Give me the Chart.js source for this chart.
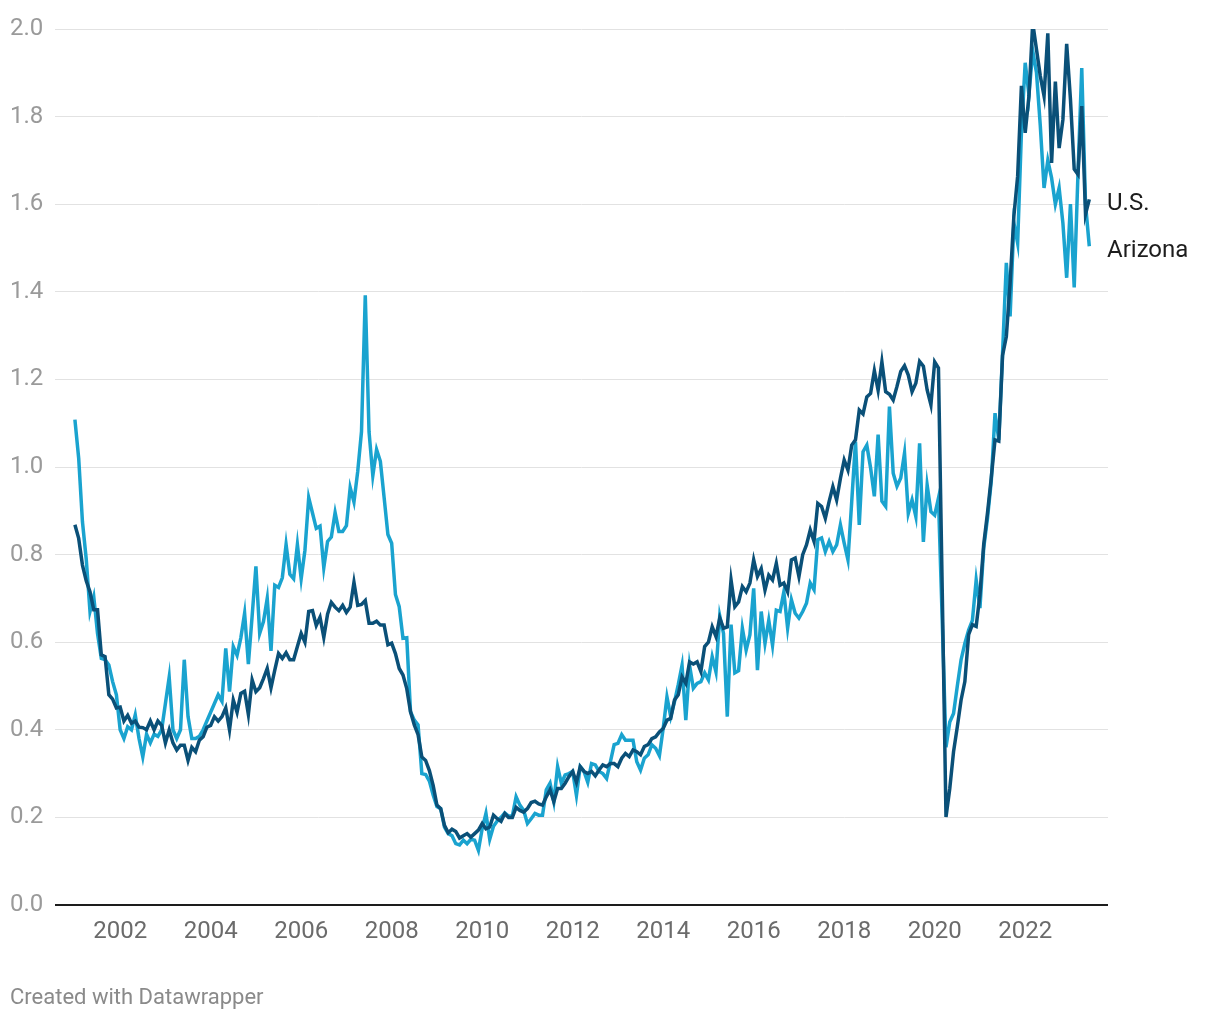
<!DOCTYPE html>
<html>
<head>
<meta charset="utf-8">
<script src="https://cdn.jsdelivr.net/npm/chart.js@4.4.1/dist/chart.umd.min.js"></script>
<style>
html,body{margin:0;padding:0;background:#ffffff;}
#wrap{position:relative;width:1220px;height:1020px;overflow:hidden;}
#c{position:absolute;left:0;top:0;}
#credit{position:absolute;left:10px;top:985px;font-family:Roboto,sans-serif;font-size:22px;line-height:24px;color:#8a8a8a;}
</style>
</head>
<body>
<div id="wrap">
<canvas id="c" width="1220" height="1020"></canvas>
<div id="credit">Created with Datawrapper</div>
</div>
<script>
// Monthly values, January 2001 to June 2023
const startYear = 2001;
const seriesNames = ['U.S.', 'Arizona'];

const usValues = [
  0.868, 0.837, 0.776, 0.74, 0.715, 0.674, 0.674, 0.571, 0.567, 0.48, 0.47, 0.45,
  0.452, 0.42, 0.433, 0.415, 0.42, 0.406, 0.405, 0.40, 0.42, 0.40, 0.42, 0.41,
  0.37, 0.40, 0.37, 0.354, 0.365, 0.365, 0.33, 0.36, 0.35, 0.376, 0.384, 0.406,
  0.41, 0.43, 0.42, 0.43, 0.45, 0.40, 0.468, 0.44, 0.483, 0.488, 0.435, 0.514,
  0.487, 0.496, 0.517, 0.54, 0.496, 0.536, 0.574, 0.563, 0.576, 0.56, 0.56, 0.59,
  0.62, 0.60, 0.67, 0.672, 0.638, 0.657, 0.611, 0.664, 0.691, 0.68, 0.672, 0.684,
  0.668, 0.68, 0.737, 0.684, 0.686, 0.695, 0.643, 0.643, 0.648, 0.639, 0.639, 0.594,
  0.598, 0.574, 0.54, 0.525, 0.494, 0.441, 0.411, 0.389, 0.338, 0.33, 0.307, 0.273,
  0.228, 0.22, 0.182, 0.165, 0.173, 0.168, 0.153, 0.158, 0.163, 0.155, 0.163, 0.171,
  0.186, 0.174, 0.178, 0.205, 0.197, 0.191, 0.209, 0.2, 0.2, 0.223, 0.216, 0.212,
  0.22, 0.234, 0.237, 0.231, 0.228, 0.247, 0.263, 0.236, 0.266, 0.266, 0.278, 0.293,
  0.305, 0.28, 0.316, 0.305, 0.3, 0.305, 0.295, 0.308, 0.32, 0.316, 0.323, 0.323,
  0.316, 0.335, 0.346, 0.339, 0.354, 0.35, 0.343, 0.362, 0.366, 0.38, 0.384, 0.395,
  0.403, 0.422, 0.426, 0.468, 0.48, 0.521, 0.506, 0.555, 0.55, 0.555, 0.533, 0.59,
  0.6, 0.635, 0.613, 0.655, 0.632, 0.635, 0.742, 0.681, 0.692, 0.727, 0.715, 0.735,
  0.788, 0.75, 0.768, 0.719, 0.753, 0.742, 0.78, 0.73, 0.735, 0.715, 0.788, 0.792,
  0.75, 0.8, 0.822, 0.856, 0.83, 0.917, 0.91, 0.883, 0.921, 0.955, 0.925, 0.974,
  1.016, 0.993, 1.05, 1.062, 1.13, 1.121, 1.16, 1.168, 1.22, 1.175, 1.24, 1.172,
  1.166, 1.153, 1.184, 1.218, 1.231, 1.21, 1.172, 1.191, 1.241, 1.23, 1.176, 1.142,
  1.24, 1.226, 0.72, 0.201, 0.266, 0.35, 0.407, 0.468, 0.51, 0.617, 0.64, 0.636,
  0.709, 0.823, 0.895, 0.975, 1.062, 1.059, 1.255, 1.298, 1.42, 1.573, 1.664, 1.87,
  1.763, 1.847, 2.014, 1.953, 1.893, 1.847, 1.99, 1.694, 1.88, 1.728, 1.793, 1.966,
  1.84, 1.68, 1.668, 1.824, 1.577, 1.611
];

const azValues = [
  1.108, 1.02, 0.875, 0.79, 0.67, 0.704, 0.62, 0.563, 0.56, 0.548, 0.51, 0.48,
  0.40, 0.38, 0.407, 0.40, 0.434, 0.38, 0.338, 0.39, 0.37, 0.39, 0.385, 0.40,
  0.46, 0.52, 0.40, 0.38, 0.40, 0.56, 0.43, 0.38, 0.38, 0.385, 0.40, 0.42,
  0.44, 0.46, 0.48, 0.465, 0.586, 0.487, 0.59, 0.57, 0.61, 0.666, 0.55, 0.66,
  0.773, 0.62, 0.647, 0.70, 0.58, 0.73, 0.725, 0.747, 0.823, 0.755, 0.745, 0.823,
  0.745, 0.81, 0.93, 0.895, 0.86, 0.865, 0.77, 0.83, 0.84, 0.896, 0.853, 0.853,
  0.866, 0.953, 0.92, 0.99, 1.081, 1.392, 1.08, 0.98, 1.04, 1.013, 0.93, 0.846,
  0.826, 0.709, 0.681, 0.609, 0.61, 0.441, 0.422, 0.411, 0.30, 0.298, 0.283, 0.251,
  0.225, 0.22, 0.178, 0.163, 0.158, 0.14, 0.137, 0.148, 0.14, 0.15, 0.148, 0.125,
  0.174, 0.209, 0.15, 0.18, 0.192, 0.2, 0.21, 0.203, 0.203, 0.247, 0.228, 0.216,
  0.186, 0.197, 0.209, 0.205, 0.205, 0.263, 0.278, 0.236, 0.316, 0.278, 0.297, 0.3,
  0.305, 0.25, 0.316, 0.305, 0.28, 0.323, 0.32, 0.305, 0.3, 0.289, 0.327, 0.366,
  0.369, 0.389, 0.376, 0.376, 0.376, 0.327, 0.308, 0.335, 0.343, 0.366, 0.358, 0.341,
  0.403, 0.475, 0.43, 0.464, 0.503, 0.547, 0.422, 0.547, 0.495, 0.506, 0.51, 0.53,
  0.514, 0.567, 0.532, 0.66, 0.62, 0.43, 0.64, 0.53, 0.535, 0.632, 0.582, 0.617,
  0.723, 0.536, 0.67, 0.597, 0.65, 0.593, 0.673, 0.67, 0.715, 0.632, 0.697, 0.666,
  0.655, 0.67, 0.689, 0.735, 0.72, 0.834, 0.838, 0.807, 0.83, 0.807, 0.822, 0.868,
  0.826, 0.788, 0.921, 1.058, 0.868, 1.035, 1.05, 0.998, 0.933, 1.074, 0.922, 0.91,
  1.138, 0.986, 0.956, 0.975, 1.032, 0.894, 0.925, 0.887, 1.054, 0.829, 0.959, 0.898,
  0.89, 0.929, 0.65, 0.36, 0.418, 0.437, 0.5, 0.56, 0.597, 0.628, 0.65, 0.742,
  0.678, 0.815, 0.883, 0.967, 1.123, 1.062, 1.26, 1.466, 1.344, 1.557, 1.511, 1.763,
  1.923, 1.85, 1.95, 1.9, 1.78, 1.637, 1.7, 1.66, 1.6, 1.637, 1.557, 1.432,
  1.6, 1.41, 1.67, 1.911, 1.6, 1.504
];

const xTickYears = [2002, 2004, 2006, 2008, 2010, 2012, 2014, 2016, 2018, 2020, 2022];
const yTickValues = [0, 0.2, 0.4, 0.6, 0.8, 1.0, 1.2, 1.4, 1.6, 1.8, 2.0];

// Category positions: decimal year of each month
const monthPositions = usValues.map((_, i) => startYear + i / 12);
const toPoints = vals => vals.map((v, i) => ({ x: monthPositions[i], y: v }));

const FONT = 'Roboto';

const endLabels = {
  id: 'endLabels',
  afterDatasetsDraw(chart) {
    const ctx = chart.ctx;
    const ys = chart.scales.y;
    ctx.save();
    ctx.font = '24px ' + FONT;
    ctx.fillStyle = '#1d1d1d';
    ctx.textAlign = 'left';
    ctx.textBaseline = 'middle';
    chart.data.datasets.forEach(ds => {
      const last = ds.data[ds.data.length - 1].y;
      const py = ys.getPixelForValue(last);
      ctx.fillText(ds.label, chart.chartArea.right - 1, py + 5);
    });
    ctx.restore();
  }
};

new Chart(document.getElementById('c'), {
  type: 'line',
  data: {
    datasets: [
      {
        label: seriesNames[0],
        data: toPoints(usValues),
        borderColor: '#0a5078',
        borderWidth: 3.5,
        pointRadius: 0,
        tension: 0,
        fill: false
      },
      {
        label: seriesNames[1],
        data: toPoints(azValues),
        borderColor: '#1aa3cf',
        borderWidth: 3.5,
        pointRadius: 0,
        tension: 0,
        fill: false
      }
    ]
  },
  options: {
    responsive: false,
    animation: false,
    devicePixelRatio: 1,
    layout: { padding: { left: 10, right: 112, top: 29, bottom: 0 } },
    plugins: {
      legend: { display: false },
      tooltip: { enabled: false },
      title: { display: false }
    },
    scales: {
      x: {
        type: 'linear',
        min: 2000.56,
        max: 2023.83,
        afterBuildTicks: s => { s.ticks = xTickYears.map(v => ({ value: v })); },
        afterFit: s => { s.height = 115; },
        grid: { display: false, drawTicks: false },
        border: { display: false },
        ticks: {
          autoSkip: false,
          maxRotation: 0,
          padding: 13,
          color: '#6b6b6b',
          font: { family: FONT, size: 24 },
          callback: v => String(v)
        }
      },
      y: {
        min: 0,
        max: 2,
        afterBuildTicks: s => { s.ticks = yTickValues.map(v => ({ value: v })); },
        afterFit: s => { s.width = 45; },
        grid: {
          drawTicks: false,
          color: c => (c.tick && c.tick.value === 0) ? '#1d1d1d' : '#e2e2e2',
          lineWidth: c => (c.tick && c.tick.value === 0) ? 2 : 1
        },
        border: { display: false },
        ticks: {
          crossAlign: 'far',
          padding: 0,
          color: '#9a9a9a',
          font: { family: FONT, size: 24 },
          callback: v => v.toFixed(1)
        }
      }
    }
  },
  plugins: [endLabels]
});
</script>
</body>
</html>
